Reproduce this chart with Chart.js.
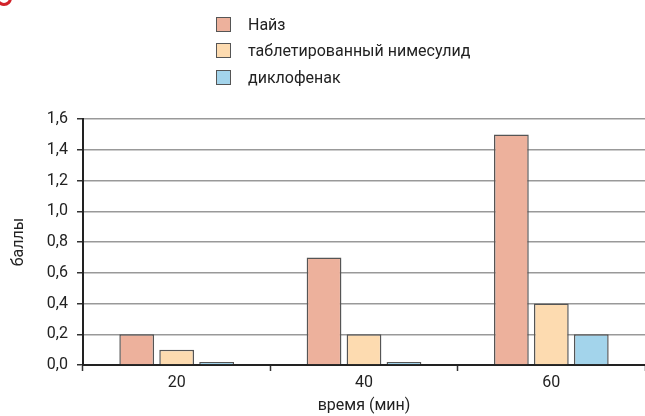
<!DOCTYPE html>
<html>
<head>
<meta charset="utf-8">
<script src="https://cdn.jsdelivr.net/npm/chart.js@4/dist/chart.umd.min.js"></script>
<style>
  html, body { margin: 0; padding: 0; background: #fff; }
  #wrap { position: relative; width: 645px; height: 416px; overflow: hidden; }
  #legend { position: absolute; left: 216px; top: 11px; font-family: Roboto, sans-serif; font-size: 16px; color: #222; }
  #legend div { height: 26.5px; display: flex; align-items: center; }
  #legend span.box { display: inline-block; width: 13px; height: 13px; border: 1.5px solid #555; margin-right: 17px; }
  #mark { position: absolute; left: -4px; top: -10px; width: 10px; height: 10px; border: 3px solid #d2232a; border-radius: 50%; }
</style>
</head>
<body>
<div id="wrap">
  <canvas id="barChart" width="645" height="416"></canvas>
  <div id="legend"></div>
  <div id="mark"></div>
</div>
<script>
const categorias = ['20', '40', '60'];
const series = ['Найз', 'таблетированный нимесулид', 'диклофенак'];
const naiz = [0.2, 0.7, 1.5];
const nimesulid = [0.1, 0.2, 0.4];
const diklofenak = [0.02, 0.02, 0.2];
const colores = ['#edb19c', '#fddbb0', '#a3d4eb'];

grafico_barras()

function grafico_barras(){
    let ctx = document.getElementById('barChart').getContext('2d');
    let valores = [naiz, nimesulid, diklofenak];
    let fuente = { family: 'Roboto', size: 16 };
    let barChart = new Chart(ctx, {
    type: 'bar',
    data: {
        labels: categorias,
        datasets: series.map((s, i) => ({
            label: s,
            data: valores[i],
            backgroundColor: colores[i],
            borderColor: '#555',
            borderWidth: 1.5,
            categoryPercentage: 0.64,
            barPercentage: 0.87
        }))
    },
    options: {
        responsive: false,
        animation: false,
        layout: { padding: { top: 119, left: 0, right: 0, bottom: 0 } },
        plugins: {
            legend: { display: false },
            tooltip: { enabled: false }
        },
        scales: {
            x: {
                grid: { drawOnChartArea: false, tickLength: 6, tickColor: '#333', tickWidth: 1.5 },
                border: { color: '#222', width: 2 },
                ticks: { color: '#222', font: fuente, padding: 2 },
                title: { display: true, text: 'время (мин)', color: '#222', font: fuente, padding: { top: 0, bottom: 0 } },
                afterFit: (axis) => { axis.height = 51; }
            },
            y: {
                min: 0,
                max: 1.6,
                grid: { color: '#999', lineWidth: 1.5, tickLength: 6, tickColor: '#333' },
                border: { color: '#222', width: 2 },
                ticks: {
                    stepSize: 0.2,
                    color: '#222',
                    font: fuente,
                    padding: 9,
                    callback: (v) => v.toFixed(1).replace('.', ',')
                },
                title: { display: true, text: 'баллы', color: '#222', font: fuente, padding: { top: 9.5, bottom: 9.5 } },
                afterFit: (axis) => { axis.width = 83; }
            }
        }
    }
});

    let legend = document.getElementById('legend');
    series.forEach((s, i) => {
        let row = document.createElement('div');
        let box = document.createElement('span');
        box.className = 'box';
        box.style.background = colores[i];
        row.appendChild(box);
        row.appendChild(document.createTextNode(s));
        legend.appendChild(row);
    });
}
</script>
</body>
</html>
